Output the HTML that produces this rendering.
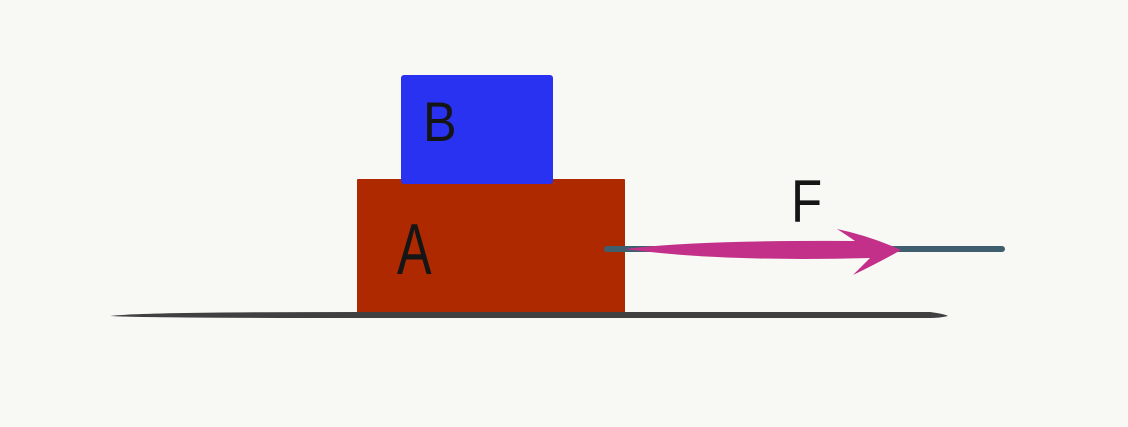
<!DOCTYPE html>
<html><head><style>html,body{margin:0;padding:0;background:#f8f8f4;}svg{display:block}</style></head>
<body>
<svg width="1128" height="427" viewBox="0 0 1128 427" xmlns="http://www.w3.org/2000/svg">
<rect width="1128" height="427" fill="#f8f8f4"/>
<rect x="357" y="179" width="268" height="136" fill="#af2900" rx="1"/>
<rect x="401" y="75" width="152" height="109" fill="#2a32f1" rx="3"/>
<path d="M110 316 Q140 312 360 312 L930 312 Q945 314 948 316 Q940 318 930 318 L360 318 Q140 318 110 316 Z" fill="#404040"/>
<line x1="607" y1="249" x2="1002" y2="249" stroke="#3f5f6f" stroke-width="6" stroke-linecap="round"/>
<path d="M625 249 Q700 240 855 241 Q848 236 837 229 Q870 236 901 250 Q880 262 853 275 Q862 266 870 258 Q720 262 625 249 Z" fill="#c3308a"/>
<g font-family="Liberation Sans, sans-serif" fill="#151515">
<text x="423" y="141" font-size="56" transform="translate(423 0) scale(0.9 1) translate(-423 0)">B</text>
<text x="397" y="274" font-size="72" transform="translate(397 0) scale(0.72 1) translate(-397 0)">A</text>
<text x="791" y="222" font-size="60" transform="translate(791 0) scale(0.85 1) translate(-791 0)">F</text>
</g>
</svg>
</body></html>
